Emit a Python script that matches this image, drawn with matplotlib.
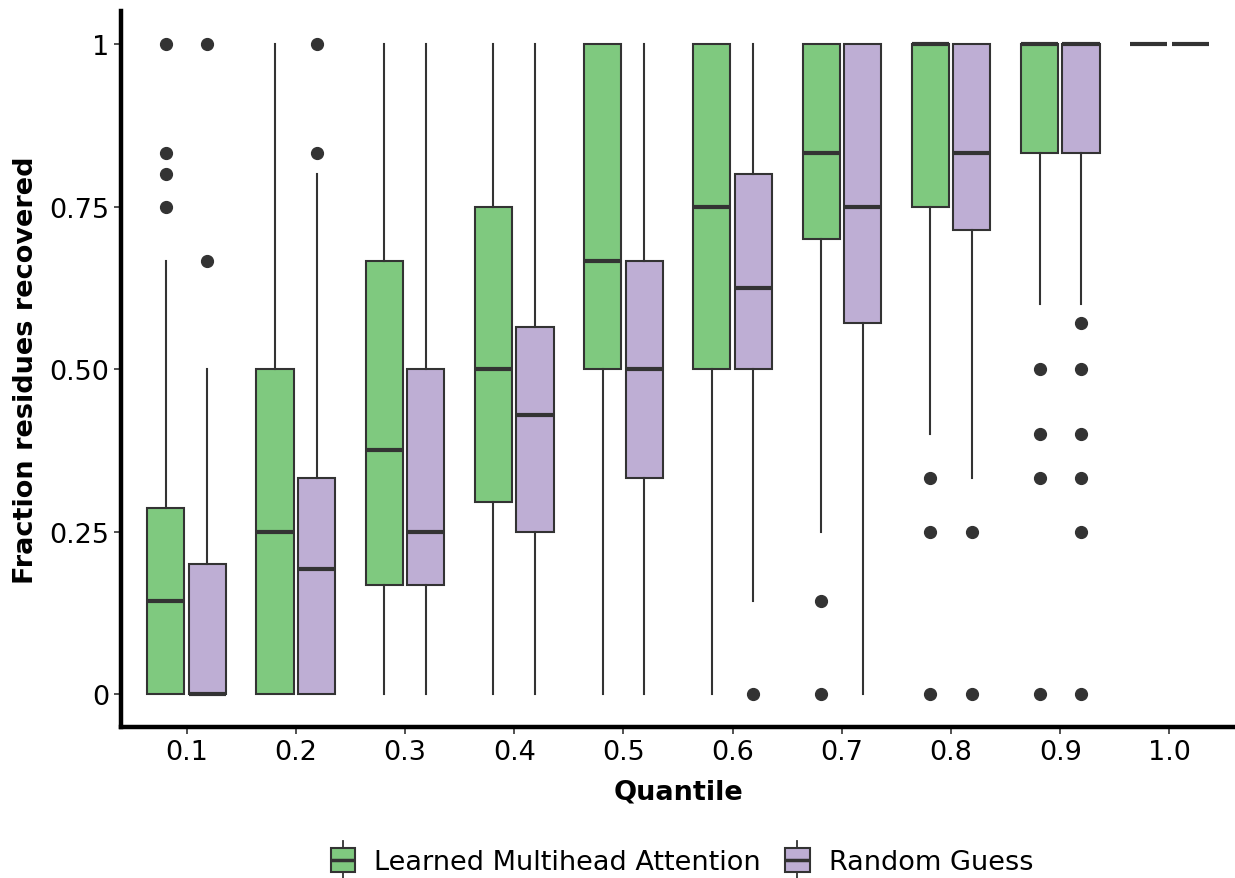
import numpy as np
import matplotlib
matplotlib.use("Agg")
import matplotlib.pyplot as plt
from matplotlib.patches import Rectangle
from matplotlib.lines import Line2D
from matplotlib.legend_handler import HandlerBase

quantiles = ["0.1", "0.2", "0.3", "0.4", "0.5", "0.6", "0.7", "0.8", "0.9", "1.0"]

# Learned Multihead Attention: whisker low, q1, median, q3, whisker high, outliers
lma_lo = [0, 0, 0, 0, 0, 0, 0.25, 0.4, 0.6, 1]
lma_q1 = [0, 0, 0.167, 0.296, 0.5, 0.5, 0.7, 0.75, 0.833, 1]
lma_med = [0.143, 0.25, 0.375, 0.5, 0.667, 0.75, 0.833, 1, 1, 1]
lma_q3 = [0.286, 0.5, 0.667, 0.75, 1, 1, 1, 1, 1, 1]
lma_hi = [0.667, 1, 1, 1, 1, 1, 1, 1, 1, 1]
lma_out = [[1, 0.833, 0.8, 0.75], [], [], [], [], [], [0.143, 0],
           [0.333, 0.25, 0], [0.5, 0.4, 0.333, 0], []]

# Random Guess
rg_lo = [0, 0, 0, 0, 0, 0.143, 0, 0.333, 0.6, 1]
rg_q1 = [0, 0, 0.167, 0.25, 0.333, 0.5, 0.571, 0.714, 0.833, 1]
rg_med = [0, 0.193, 0.25, 0.429, 0.5, 0.625, 0.75, 0.833, 1, 1]
rg_q3 = [0.2, 0.333, 0.5, 0.565, 0.667, 0.8, 1, 1, 1, 1]
rg_hi = [0.5, 0.8, 1, 1, 1, 1, 1, 1, 1, 1]
rg_out = [[1, 0.667], [1, 0.833], [], [], [], [0], [], [0.25, 0],
          [0.571, 0.5, 0.4, 0.333, 0.25, 0], []]

series = ["Learned Multihead Attention", "Random Guess"]
colors = ["#7fc97f", "#beaed4"]
edge = "#333333"


def make_stats(lo, q1, med, q3, hi, out):
    stats = []
    for i in range(len(lo)):
        stats.append({"whislo": lo[i], "q1": q1[i], "med": med[i],
                      "q3": q3[i], "whishi": hi[i], "fliers": out[i]})
    return stats


class BoxHandler(HandlerBase):
    def create_artists(self, legend, orig_handle, xdescent, ydescent,
                       width, height, fontsize, trans):
        cx = width / 2 - xdescent
        bw = height * 1.3
        bh = height * 1.25
        by = -ydescent + (height - bh) / 2
        whisk = Line2D([cx, cx], [by - height * 0.35, by + bh + height * 0.35],
                       color=edge, lw=1.3, transform=trans)
        rect = Rectangle((cx - bw / 2, by), bw, bh, facecolor=orig_handle.get_facecolor(),
                         edgecolor=edge, lw=1.5, transform=trans)
        med = Line2D([cx - bw / 2, cx + bw / 2], [by + bh / 2, by + bh / 2],
                     color=edge, lw=2.5, solid_capstyle="butt", transform=trans)
        return [whisk, rect, med]


fig = plt.figure(figsize=(12.35, 8.79), dpi=100)
ax = fig.add_axes([0.098, 0.1717, 0.902, 0.815])

x = np.arange(len(quantiles))
offsets = [-0.19, 0.19]
all_stats = [make_stats(lma_lo, lma_q1, lma_med, lma_q3, lma_hi, lma_out),
             make_stats(rg_lo, rg_q1, rg_med, rg_q3, rg_hi, rg_out)]

for k in range(2):
    ax.bxp(all_stats[k], positions=x + offsets[k], widths=0.34,
           patch_artist=True, showcaps=False, manage_ticks=False,
           boxprops=dict(facecolor=colors[k], edgecolor=edge, linewidth=1.5),
           medianprops=dict(color=edge, linewidth=3, solid_capstyle="butt"),
           whiskerprops=dict(color=edge, linewidth=1.5),
           flierprops=dict(marker="o", markerfacecolor=edge, markeredgecolor=edge,
                           markersize=8.5))

ax.set_xlim(-0.6, 9.6)
ax.set_ylim(-0.051, 1.052)
ax.set_xticks(x)
ax.set_xticklabels(quantiles)
ax.set_yticks([0, 0.25, 0.5, 0.75, 1])
ax.set_yticklabels(["0", "0.25", "0.50", "0.75", "1"])
ax.tick_params(labelsize=19.5, colors=edge, labelcolor="black", length=5, width=1.2)
for s in ["top", "right"]:
    ax.spines[s].set_visible(False)
for s in ["left", "bottom"]:
    ax.spines[s].set_linewidth(3.2)
    ax.spines[s].set_color("black")

ax.set_xlabel("Quantile", fontsize=19.5, fontweight="bold", labelpad=10)
ax.set_ylabel("Fraction residues recovered", fontsize=19.5, fontweight="bold", labelpad=7)

handles = [Rectangle((0, 0), 1, 1, facecolor=c) for c in colors]
fig.legend(handles, series, loc="center", bbox_to_anchor=(0.55, 0.018),
           ncol=2, frameon=False, fontsize=19.5, handler_map={Rectangle: BoxHandler()},
           handlelength=1.3, handletextpad=0.5, columnspacing=0.7)

fig.savefig("out.png", dpi=100)
